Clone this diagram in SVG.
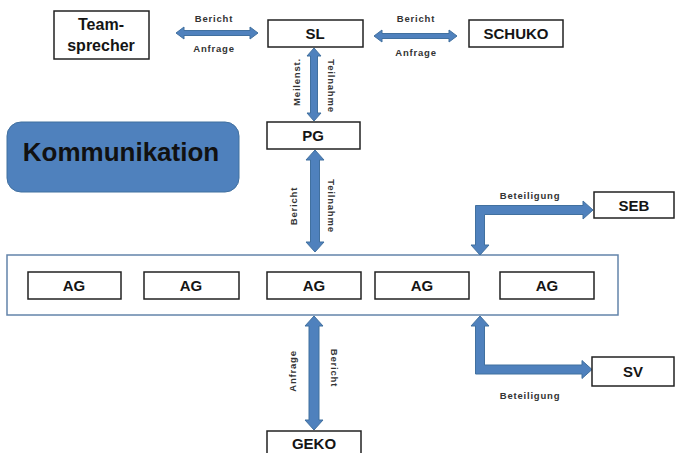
<svg xmlns="http://www.w3.org/2000/svg" width="678" height="453" viewBox="0 0 678 453">
<style>
.box{fill:#fff;stroke:#222;stroke-width:1.5}
.nt{font-family:"Liberation Sans",Arial,sans-serif;font-weight:bold;font-size:15px;fill:#151515;text-anchor:middle}
.lb{font-family:"Liberation Sans",Arial,sans-serif;font-weight:bold;font-size:9.5px;fill:#333;text-anchor:middle;dominant-baseline:central;letter-spacing:0.8px}
.arr{fill:#4F81BD;stroke:#41709f;stroke-width:1}
</style>
<rect width="678" height="453" fill="#fff"/>
<g id="kommunikation">
<rect x="7" y="122" width="232" height="70" rx="14" fill="#4F81BD" stroke="#41709f" stroke-width="1"/>
<text x="121" y="161" style="font-family:'Liberation Sans',Arial,sans-serif;font-weight:bold;font-size:26px;fill:#111;text-anchor:middle">Kommunikation</text>
</g>
<g id="container"><rect x="7" y="255" width="611" height="60" fill="#fff" stroke="#6384aa" stroke-width="1.5"/></g>
<g id="connectors">
<polygon class="arr" points="176,33 184,27 184,30.5 250,30.5 250,27 258,33 250,39 250,35.5 184,35.5 184,39"/>
<polygon class="arr" points="374,36 382,30 382,33.5 449,33.5 449,30 457,36 449,42 449,38.5 382,38.5 382,42"/>
<polygon class="arr" points="314,48 321,56 317.5,56 317.5,113 321,113 314,121 307,113 310.5,113 310.5,56 307,56"/>
<polygon class="arr" points="315,150 324,160 319.5,160 319.5,242 324,242 315,252 306,242 310.5,242 310.5,160 306,160"/>
<polygon class="arr" points="314,316 323,326 319,326 319,420 323,420 314,430 305,420 309,420 309,326 305,326"/>
<polygon class="arr" points="480,255 489,245 484.5,245 484.5,214.5 583,214.5 583,219 593,210 583,201 583,205.5 475.5,205.5 475.5,245 471,245"/>
<polygon class="arr" points="480,316 489,326 484.5,326 484.5,365 582,365 582,360.5 592,369.5 582,378.5 582,374 475.5,374 475.5,326 471,326"/>
<text class="lb" x="214" y="18">Bericht</text>
<text class="lb" x="214" y="48">Anfrage</text>
<text class="lb" x="416" y="18">Bericht</text>
<text class="lb" x="416" y="52">Anfrage</text>
<text class="lb" transform="translate(296,82) rotate(-90)">Meilenst.</text>
<text class="lb" transform="translate(331,86) rotate(90)">Teilnahme</text>
<text class="lb" transform="translate(293,206) rotate(-90)">Bericht</text>
<text class="lb" transform="translate(331,206) rotate(90)">Teilnahme</text>
<text class="lb" transform="translate(292,371) rotate(-90)">Anfrage</text>
<text class="lb" transform="translate(334,368) rotate(90)">Bericht</text>
<text class="lb" x="530" y="195">Beteiligung</text>
<text class="lb" x="530" y="395">Beteiligung</text>
</g>
<g id="teamsprecher"><rect class="box" x="54" y="11" width="95" height="48"/><text class="nt" x="101" y="30" style="font-size:16px">Team-</text><text class="nt" x="101" y="51" style="font-size:16px">sprecher</text></g>
<g id="sl"><rect class="box" x="268" y="20" width="95" height="27"/><text class="nt" x="315" y="39">SL</text></g>
<g id="schuko"><rect class="box" x="469" y="20" width="94" height="27"/><text class="nt" x="516" y="39">SCHUKO</text></g>
<g id="pg"><rect class="box" x="267" y="122" width="93" height="27"/><text class="nt" x="313" y="141">PG</text></g>
<g id="ag1"><rect class="box" x="28" y="272" width="93" height="27"/><text class="nt" x="74" y="291">AG</text></g>
<g id="ag2"><rect class="box" x="144" y="272" width="95" height="27"/><text class="nt" x="191" y="291">AG</text></g>
<g id="ag3"><rect class="box" x="267" y="272" width="94" height="27"/><text class="nt" x="314" y="291">AG</text></g>
<g id="ag4"><rect class="box" x="375" y="272" width="94" height="27"/><text class="nt" x="422" y="291">AG</text></g>
<g id="ag5"><rect class="box" x="500" y="272" width="94" height="27"/><text class="nt" x="547" y="291">AG</text></g>
<g id="seb"><rect class="box" x="594" y="192" width="80" height="26"/><text class="nt" x="634" y="211">SEB</text></g>
<g id="sv"><rect class="box" x="592" y="357" width="82" height="29"/><text class="nt" x="633" y="377">SV</text></g>
<g id="geko"><rect class="box" x="267" y="431" width="94" height="30"/><text class="nt" x="314" y="449">GEKO</text></g>
</svg>
